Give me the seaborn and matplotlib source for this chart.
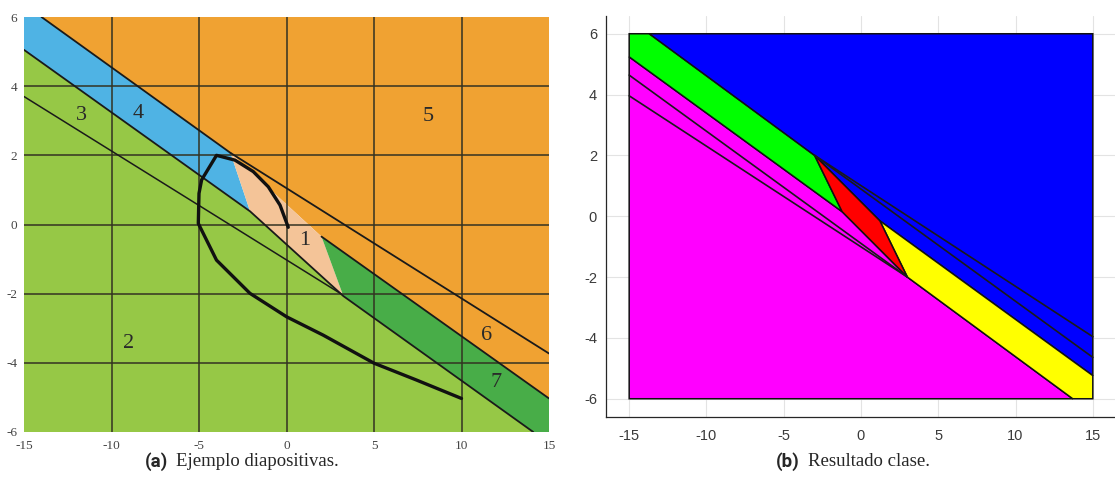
import numpy as np
import pandas as pd
import seaborn as sns
import matplotlib.pyplot as plt

sns.set_style("whitegrid")
plt.rcParams['font.family'] = ['Liberation Sans', 'DejaVu Sans']
plt.rcParams['axes.unicode_minus'] = False

# ---- (a) Ejemplo diapositivas: regions (polygon vertices) ----
orange_x = [-14.0, 15, 15, 2.0, -3.2]
orange_y = [6, 6, -5.03, -0.35, 2.07]
blue_x = [-15, -14.0, -3.2, -2.08, -15]
blue_y = [6, 6, 2.07, 0.38, 5.05]
peach_x = [-3.2, 2.0, 3.25, -2.08]
peach_y = [2.07, -0.35, -2.07, 0.38]
dkgreen_x = [2.0, 15, 15, 14.1, 3.25]
dkgreen_y = [-0.35, -5.03, -6, -6, -2.07]
ltgreen_x = [-15, -15, -2.08, 3.25, 14.1]
ltgreen_y = [-6, 5.05, 0.38, -2.07, -6]

# boundary lines
line_a_x, line_a_y = [-14.0, -3.2], [6, 2.07]
line_b_x, line_b_y = [-15, -2.08, 3.25, 14.1], [5.05, 0.38, -2.07, -6]
line_c_x, line_c_y = [-15, 3.1], [3.70, -2.0]
line_d_x, line_d_y = [-3.2, 15], [2.07, -3.73]
line_e_x, line_e_y = [2.0, 15], [-0.35, -5.03]

# thick trajectory curve
curve_x = [0.1, -0.37, -1.04, -1.9, -2.94, -4.0, -4.85, -5.0, -5.04,
           -4.0, -2.09, 0.01, 2.1, 5.0, 7.44, 10.0]
curve_y = [-0.08, 0.56, 1.09, 1.53, 1.86, 2.0, 1.29, 0.9, 0.03,
           -1.03, -1.99, -2.67, -3.2, -4.01, -4.5, -5.03]

region_labels = ["1", "2", "3", "4", "5", "6", "7"]
label_x = [1.06, -9.0, -11.69, -8.49, 8.09, 11.46, 11.97]
label_y = [-0.45, -3.43, 3.14, 3.22, 3.11, -3.2, -4.56]

left_xticks = [-15, -10, -5, 0, 5, 10, 15]
left_yticks = [-6, -4, -2, 0, 2, 4, 6]

# ---- (b) Resultado clase: regions ----
magenta_x = [-15, -15, -1.22, 3.0, 13.7]
magenta_y = [-6, 5.24, 0.15, -2.0, -6]
green_x = [-15, -13.7, -3.0, -1.22, -15]
green_y = [6, 6, 2.0, 0.15, 5.24]
bblue_x = [-13.7, 15, 15, 1.22, -3.0]
bblue_y = [6, 6, -5.24, -0.15, 2.0]
yellow_x = [15, 13.7, 3.0, 1.22, 15]
yellow_y = [-6, -6, -2.0, -0.15, -5.24]
red_x = [-3.0, 1.22, 3.0, -1.22]
red_y = [2.0, -0.15, -2.0, 0.15]

# extra classifier lines
r1_x, r1_y = [-3.0, 15], [2.0, -3.96]
r2_x, r2_y = [-3.0, 15], [2.0, -4.64]
l2_x, l2_y = [3.0, -15], [-2.0, 4.64]
l3_x, l3_y = [3.0, -15], [-2.0, 3.96]

right_xticks = [-15, -10, -5, 0, 5, 10, 15]
right_yticks = [-6, -4, -2, 0, 2, 4, 6]

fig = plt.figure(figsize=(11.15, 4.92), dpi=100)

# ================= left panel =================
ax1 = fig.add_axes([24 / 1115, 60 / 492, 525 / 1115, 415 / 492])
ax1.grid(False)
for xs, ys, c in [(ltgreen_x, ltgreen_y, '#96c846'), (orange_x, orange_y, '#f0a232'),
                  (blue_x, blue_y, '#4fb3e4'), (peach_x, peach_y, '#f4c498'),
                  (dkgreen_x, dkgreen_y, '#48ad48')]:
    ax1.fill(xs, ys, color=c, lw=0, zorder=1)

for g in [-10, -5, 0, 5, 10]:
    ax1.axvline(g, color='#333322', lw=1.1, zorder=2)
for g in [-4, -2, 0, 2, 4]:
    ax1.axhline(g, color='#333322', lw=1.1, zorder=2)

for xs, ys in [(line_a_x, line_a_y), (line_b_x, line_b_y), (line_d_x, line_d_y),
               (line_e_x, line_e_y)]:
    sns.lineplot(x=xs, y=ys, ax=ax1, color='#1a1a1a', lw=1.3, sort=False,
                 estimator=None, zorder=3)
sns.lineplot(x=line_c_x, y=line_c_y, ax=ax1, color='#1a1a1a', lw=1.1, sort=False,
             estimator=None, zorder=3)
sns.lineplot(x=curve_x, y=curve_y, ax=ax1, color='#111111', lw=2.4, sort=False,
             estimator=None, zorder=4)

for t, lx, ly in zip(region_labels, label_x, label_y):
    ax1.text(lx, ly, t, fontsize=16, family='Liberation Serif', color='#2a2a2a',
             ha='center', va='center', zorder=5)

ax1.set_xlim(-15, 15)
ax1.set_ylim(-6, 6)
ax1.set_xticks(left_xticks)
ax1.set_yticks(left_yticks)
ax1.tick_params(length=0, labelsize=9.5, colors='#444444')
ax1.tick_params(axis='x', pad=5.5)
ax1.tick_params(axis='y', pad=5)
for lab in ax1.get_xticklabels() + ax1.get_yticklabels():
    lab.set_family('Liberation Serif')
for s in ax1.spines.values():
    s.set_visible(False)
ax1.set_xlabel('')
ax1.set_ylabel('')

# ================= right panel =================
ax2 = fig.add_axes([606 / 1115, 75 / 492, 510 / 1115, 401.5 / 492])
ax2.grid(True, color='#e3e3e3', lw=0.8)
ax2.set_axisbelow(True)
for xs, ys, c in [(magenta_x, magenta_y, '#ff00ff'), (green_x, green_y, '#00ff00'),
                  (bblue_x, bblue_y, '#0000ff'), (yellow_x, yellow_y, '#ffff00'),
                  (red_x, red_y, '#ff0000')]:
    ax2.fill(xs, ys, facecolor=c, edgecolor='#111111', lw=1.1, zorder=2)

for xs, ys in [(r1_x, r1_y), (r2_x, r2_y), (l2_x, l2_y), (l3_x, l3_y)]:
    sns.lineplot(x=xs, y=ys, ax=ax2, color='#1a1a1a', lw=1.2, sort=False,
                 estimator=None, zorder=3)

ax2.set_xlim(-16.5, 16.5)
ax2.set_ylim(-6.6, 6.6)
ax2.set_xticks(right_xticks)
ax2.set_yticks(right_yticks)
ax2.tick_params(axis='both', direction='in', length=3, width=0.8,
                labelsize=10.5, colors='#262626', labelcolor='#3a3a3a')
ax2.tick_params(axis='x', pad=9)
ax2.tick_params(axis='y', pad=6.5)
ax2.spines['top'].set_visible(False)
ax2.spines['right'].set_visible(False)
for s in ['left', 'bottom']:
    ax2.spines[s].set_color('#262626')
    ax2.spines[s].set_linewidth(0.9)
ax2.set_xlabel('')
ax2.set_ylabel('')

# ================= captions =================
cap_y = 1 - 462 / 492
fig.text(168 / 1115, cap_y, '(a)', ha='right', va='center', fontsize=13.5,
         fontweight='bold', family=['Liberation Sans Narrow', 'Roboto', 'DejaVu Sans'])
fig.text(176 / 1115, cap_y, 'Ejemplo diapositivas.', ha='left', va='center',
         fontsize=13.5, family='Liberation Serif')
fig.text(800 / 1115, cap_y, '(b)', ha='right', va='center', fontsize=13.5,
         fontweight='bold', family=['Liberation Sans Narrow', 'Roboto', 'DejaVu Sans'])
fig.text(808 / 1115, cap_y, 'Resultado clase.', ha='left', va='center',
         fontsize=13.5, family='Liberation Serif')

fig.savefig('out.png', dpi=100)
